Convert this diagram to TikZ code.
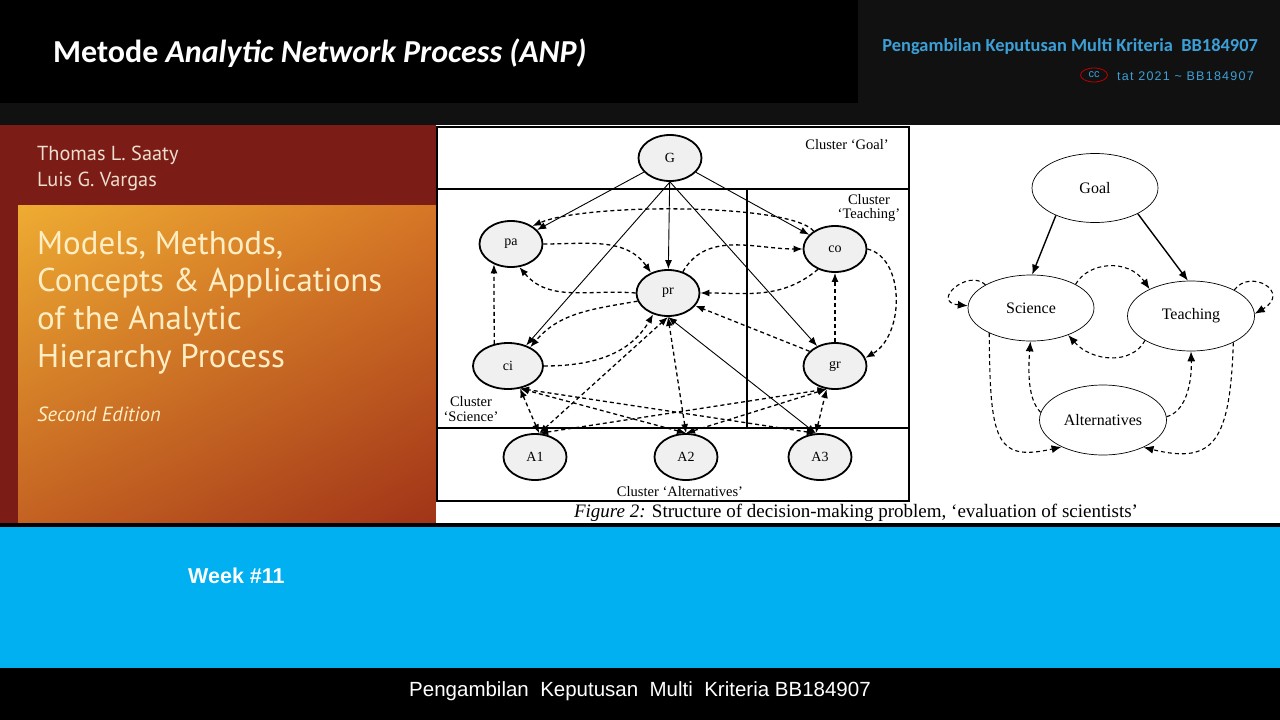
\documentclass[tikz,border=0pt]{standalone}
\usepackage{fontspec}
\setmainfont{Liberation Serif}
\newfontfamily\calibri{Carlito}
\newfontfamily\arial{Liberation Sans}
\newfontfamily\arialwide[LetterSpace=10]{Liberation Sans}
\newfontfamily\coverfont{PT Sans}
\usetikzlibrary{shapes, arrows.meta, shadings}
\definecolor{SlideBlue}{RGB}{0, 176, 240}
\definecolor{HeadBlue}{RGB}{60, 160, 215}
\definecolor{TopGray}{RGB}{17, 17, 17}
\definecolor{CoverRed}{RGB}{124, 28, 22}
\definecolor{CoverUL}{RGB}{238, 172, 50}
\definecolor{CoverUR}{RGB}{214, 118, 38}
\definecolor{CoverLL}{RGB}{196, 98, 34}
\definecolor{CoverLR}{RGB}{160, 52, 24}
\definecolor{CoverText}{RGB}{255, 238, 196}
\definecolor{CoverAuthor}{RGB}{238, 222, 206}
\definecolor{NodeGray}{RGB}{240, 240, 240}
\newcommand{\fsz}[1]{\fontsize{#1}{#1}\selectfont}

\begin{document}
\begin{tikzpicture}[x=1pt, y=1pt,
    crit/.style={ellipse, draw, line width=1.8pt, fill=NodeGray, minimum width=63pt,
      minimum height=46pt, inner sep=0pt, font=\fsz{14}},
    clus/.style={ellipse, draw, line width=0.7pt, fill=white, minimum width=126pt,
      minimum height=68pt, inner sep=0pt, font=\fsz{16}},
    lnk/.style={-{Latex[length=9pt,width=7pt]}, line width=0.9pt},
    dlnk/.style={-{Latex[length=9pt,width=7pt]}, line width=1.3pt, dash pattern=on 4pt off 3pt},
    altlnk/.style={{Latex[length=9pt,width=7pt]}-{Latex[length=9pt,width=7pt]}, line width=1.3pt,
      dash pattern=on 4pt off 3pt},
    rlnk/.style={-{Latex[length=10pt,width=8pt]}, line width=1.4pt},
    rdlnk/.style={-{Latex[length=10pt,width=8pt]}, line width=1.1pt, dash pattern=on 4pt off 3pt},
    clabel/.style={align=center, font=\fsz{14.5}, inner sep=0pt}]
  \useasboundingbox (0,0) rectangle (1280,-720);

  % Header
  \fill[TopGray] (0,0) rectangle (1280,-125);
  \fill[black] (0,0) rectangle (858,-103);
  \node[anchor=base west, text=white, font=\calibri\bfseries\fsz{32}, inner sep=0pt] (title) at (53,-62)
    {Metode \textit{Analytic Network Process (ANP)}};
  \node[anchor=base east, text=HeadBlue, font=\calibri\bfseries\fsz{18.4}, inner sep=0pt] (course) at (1258,-51)
    {Pengambilan Keputusan Multi Kriteria\ \ BB184907};
  \node[ellipse, draw=red!75!black, line width=0.8pt, minimum width=27pt, minimum height=14pt,
    inner sep=0pt, text=HeadBlue, font=\arial\fsz{11}] (cc) at (1094,-75) {cc};
  \node[anchor=base west, text=HeadBlue, font=\arialwide\fsz{12.5}, inner sep=0pt] (year) at (1117,-80)
    {tat 2021 \textasciitilde{} BB184907};

  % Book cover
  \fill[CoverRed] (0,-125) rectangle (436,-523);
  \shade[upper left=CoverUL, upper right=CoverUR, lower left=CoverLL, lower right=CoverLR]
    (18,-205) rectangle (436,-523);
  \node[anchor=base west, text=CoverAuthor, font=\coverfont\fsz{20.3}, inner sep=0pt] (au1) at (37,-160) {Thomas L. Saaty};
  \node[anchor=base west, text=CoverAuthor, font=\coverfont\fsz{20.3}, inner sep=0pt] (au2) at (37,-186) {Luis G. Vargas};
  \node[anchor=base west, text=CoverText, font=\coverfont\fsz{32.9}, inner sep=0pt] (bk1) at (37,-254) {Models, Methods,};
  \node[anchor=base west, text=CoverText, font=\coverfont\fsz{32.9}, inner sep=0pt] (bk2) at (37,-291) {Concepts \& Applications};
  \node[anchor=base west, text=CoverText, font=\coverfont\fsz{32.9}, inner sep=0pt] (bk3) at (37,-329) {of the Analytic};
  \node[anchor=base west, text=CoverText, font=\coverfont\fsz{32.9}, inner sep=0pt] (bk4) at (37,-367) {Hierarchy Process};
  \node[anchor=base west, text=CoverText, font=\coverfont\itshape\fsz{20.5}, inner sep=0pt] (ed) at (37,-421) {Second Edition};

  % Figure panel
  \fill[white] (436,-125) rectangle (1280,-523);

  % Clusters
  \draw[line width=1.8pt] (437,-127) rectangle (909,-501);
  \draw[line width=1.8pt] (437,-189) -- (909,-189);
  \draw[line width=1.8pt] (437,-428) -- (909,-428);
  \draw[line width=1.8pt] (747,-189) -- (747,-428);
  \node[clabel] (lgoal) at (847,-145) {Cluster ‘Goal’};
  \node[clabel] (lteach) at (869,-208) {Cluster\\‘Teaching’};
  \node[clabel] (lsci) at (471,-409) {Cluster\\‘Science’};
  \node[clabel] (lalt) at (680,-492) {Cluster ‘Alternatives’};

  % Elements
  \node[crit] (G) at (670,-158) {G};
  \node[crit] (pa) at (511,-244) {pa};
  \node[crit] (pr) at (668,-293) {pr};
  \node[crit] (co) at (835,-249) {co};
  \node[crit, minimum width=70pt] (ci) at (508,-366) {ci};
  \node[crit] (gr) at (835,-366) {gr};
  \node[crit] (A1) at (535,-457) {A1};
  \node[crit] (A2) at (686,-457) {A2};
  \node[crit] (A3) at (820,-457) {A3};

  % Goal links
  \draw[lnk] (G) -- (pa);
  \draw[lnk] (G) -- (pr);
  \draw[lnk] (G) -- (co);
  \draw[lnk] (G.south) -- (ci);
  \draw[lnk] (G.south) -- (gr);

  % Inner dependencies
  \draw[dlnk] (co.140) .. controls (790,-203) and (585,-203) .. (pa.40);
  \draw[dlnk] (pa.east) to[out=0, in=125] (pr.130);
  \draw[dlnk] (pr.west) to[out=175, in=-50] (pa.-70);
  \draw[dlnk] (pr.55) to[out=60, in=180] (co.west);
  \draw[dlnk] (co.-130) to[out=-140, in=0] (pr.east);
  \draw[dlnk] (pr.195) to[out=190, in=50] (ci.40);
  \draw[dlnk] (ci.east) to[out=0, in=-120] (pr.-125);
  \draw[dlnk] (ci.122) -- (pa.-130);
  \draw[dlnk] (gr.north) -- (co.south);
  \draw[dlnk] (co.east) .. controls (905,-258) and (905,-335) .. (gr.15);
  \draw[dlnk] (gr.150) -- (pr.-25);

  % Alternatives links
  \draw[altlnk] (A1.80) -- (ci.-62);
  \draw[altlnk] (A1.80) -- (pr.south);
  \draw[altlnk] (A1.80) -- (gr.-110);
  \draw[altlnk] (A2.north) -- (ci.-62);
  \draw[altlnk] (A2.north) -- (pr.south);
  \draw[altlnk] (A2.north) -- (gr.-110);
  \draw[altlnk] (A3.100) -- (ci.-62);
  \draw[altlnk, solid, line width=0.9pt] (A3.100) -- (pr.south);
  \draw[altlnk] (A3.100) -- (gr.-110);

  \node[font=\fsz{19}, inner sep=0pt] (caption) at (856,-513)
    {\textit{Figure 2:} Structure of decision-making problem, ‘evaluation of scientists’};

  % Cluster network
  \node[clus, minimum height=69pt] (goal) at (1095,-188) {Goal};
  \node[clus, minimum height=66pt] (sci) at (1031,-308) {Science};
  \node[clus, minimum width=127pt, minimum height=70pt] (teach) at (1191,-316) {Teaching};
  \node[clus, minimum width=127pt, minimum height=70pt] (alts) at (1103,-420) {Alternatives};

  \draw[rlnk] (goal.-145) -- (sci.88);
  \draw[rlnk] (goal.-31) -- (teach.95);
  \draw[rdlnk] (sci.153) .. controls (968,-268) and (930,-302) .. (sci.178);
  \draw[rdlnk] (teach.31) .. controls (1250,-268) and (1292,-292) .. (teach.2);
  \draw[rdlnk] (sci.28) .. controls (1088,-262) and (1128,-258) .. (teach.147);
  \draw[rdlnk] (teach.-152) .. controls (1132,-365) and (1092,-362) .. (sci.-36);
  \draw[rdlnk] (alts.173) .. controls (1028,-400) and (1028,-372) .. (sci.-91);
  \draw[rdlnk] (alts.3) .. controls (1185,-412) and (1192,-385) .. (teach.-90);
  \draw[rdlnk] (sci.-149) .. controls (990,-440) and (995,-462) .. (alts.-147);
  \draw[rdlnk] (teach.-32) .. controls (1230,-440) and (1215,-465) .. (alts.-34);

  % Lower band
  \fill[black] (0,-523) rectangle (1280,-527);
  \fill[SlideBlue] (0,-527) rectangle (1280,-668);
  \fill[black] (0,-668) rectangle (1280,-720);
  \node[anchor=base west, text=white, font=\arial\bfseries\fsz{21.5}, inner sep=0pt] (week) at (188,-583) {Week \#11};
  \node[text=white, font=\arial\fsz{20.5}] (foot) at (640,-691)
    {Pengambilan\ \ Keputusan\ \ Multi\ \ Kriteria BB184907};
\end{tikzpicture}
\end{document}
